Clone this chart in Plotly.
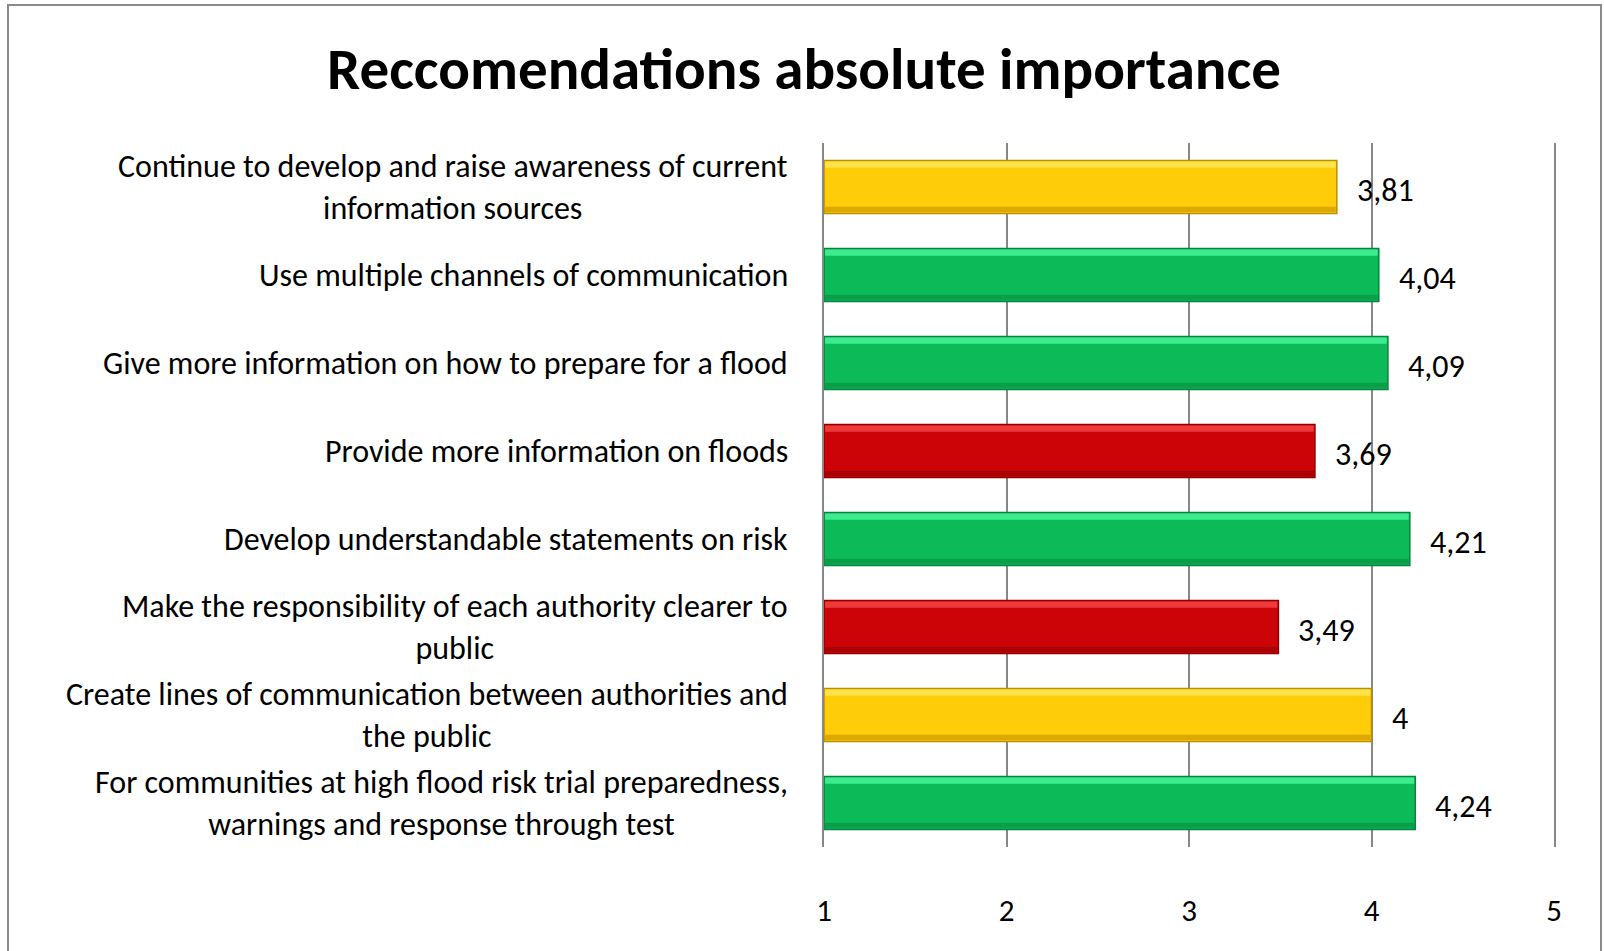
import plotly.graph_objects as go

categories = [
    "Continue to develop and raise awareness of current<br>information sources",
    "Use multiple channels of communication",
    "Give more information on how to prepare for a flood",
    "Provide more information on floods",
    "Develop understandable statements on risk",
    "Make the responsibility of each authority clearer to<br>public",
    "Create lines of communication between authorities and<br>the public",
    "For communities at high flood risk trial preparedness,<br>warnings and response through test",
]
values = [3.81, 4.04, 4.09, 3.69, 4.21, 3.49, 4.00, 4.24]
status = ["yellow", "green", "green", "red", "green", "red", "yellow", "green"]
value_labels = ["3,81", "4,04", "4,09", "3,69", "4,21", "3,49", "4", "4,24"]
x_ticks = [1, 2, 3, 4, 5]

fill = {"yellow": "#FFCC0A", "green": "#0CBA58", "red": "#CC0408"}
light = {"yellow": "#FFE34A", "green": "#3DEB90", "red": "#EE3A3A"}
dark = {"yellow": "#DDA800", "green": "#0A9E4A", "red": "#AA0000"}
edge = {"yellow": "#B88F00", "green": "#07843C", "red": "#8E0000"}

FONT = "Carlito, Calibri, Lato, sans-serif"
W, H = 1604, 951
L, R, T, B = 824, 50, 143, 104
pw, ph = W - L - R, H - T - B

ids = list(range(len(categories)))
lengths = [v - 1 for v in values]

fig = go.Figure()
fig.add_trace(go.Bar(
    x=lengths, base=1, y=ids, orientation="h",
    marker=dict(color=[fill[s] for s in status],
                line=dict(color=[edge[s] for s in status], width=1.5)),
    width=0.6, hoverinfo="skip", showlegend=False,
))
# light highlight along the top edge
fig.add_trace(go.Bar(
    x=[l - 0.012 for l in lengths], base=1.006, y=ids, orientation="h",
    marker=dict(color=[light[s] for s in status], line=dict(width=0)),
    width=0.07, offset=-0.29, hoverinfo="skip", showlegend=False,
))
# darker band along the bottom edge
fig.add_trace(go.Bar(
    x=[l - 0.012 for l in lengths], base=1.006, y=ids, orientation="h",
    marker=dict(color=[dark[s] for s in status], line=dict(width=0)),
    width=0.06, offset=0.225, hoverinfo="skip", showlegend=False,
))

annotations = []
for i, (c, v, lab) in enumerate(zip(categories, values, value_labels)):
    annotations.append(dict(x=-34 / pw, xref="paper", y=i, yref="y", text=c,
                            xanchor="right", yanchor="middle", align="center",
                            showarrow=False, font=dict(family=FONT, size=32, color="#000")))
    annotations.append(dict(x=v, xref="x", y=i, yref="y", text=lab, xanchor="left",
                            yanchor="middle", xshift=18, yshift=-3, showarrow=False,
                            font=dict(family=FONT, size=32, color="#000")))

fig.update_layout(
    width=W, height=H,
    barmode="overlay",
    margin=dict(l=L, r=R, t=T, b=B, pad=0),
    paper_bgcolor="white", plot_bgcolor="white",
    title=dict(text="<b>Reccomendations absolute importance</b>", x=804 / W, xanchor="center",
               y=1 - 68 / H, yanchor="middle", font=dict(family=FONT, size=59, color="#000")),
    xaxis=dict(range=[1, 5], tickvals=x_ticks, ticktext=[str(t) for t in x_ticks],
               showgrid=True, gridcolor="#878787", gridwidth=2, zeroline=False,
               showline=False, ticks="", ticklabelstandoff=42,
               tickfont=dict(family=FONT, size=31, color="#000")),
    yaxis=dict(range=[len(categories) - 0.5, -0.5], showticklabels=False, showgrid=False,
               zeroline=False, showline=True, mirror=True, linecolor="#878787", linewidth=2,
               ticks=""),
    annotations=annotations,
    shapes=[dict(type="rect", xref="paper", yref="paper",
                 x0=(8 - L) / pw, x1=(1601 - L) / pw,
                 y0=(H - T - B - (H + 5 - T)) / ph, y1=(H - T - B - (5 - T)) / ph,
                 line=dict(color="#8A8A8A", width=2), fillcolor="rgba(0,0,0,0)", layer="below")],
)

fig.write_html("out.html", config={"displayModeBar": False},
               post_script="document.body.style.margin='0';document.body.style.overflow='hidden';")
